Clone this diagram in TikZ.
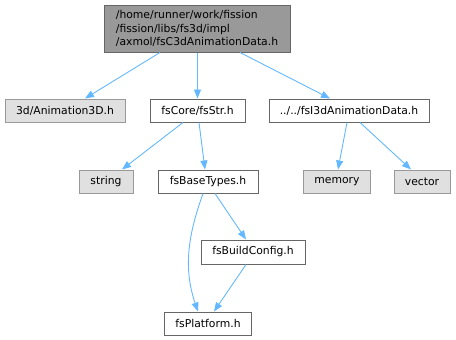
\documentclass[tikz,border=0pt]{standalone}
\usepackage{fontspec}
\setmainfont{DejaVu Sans}
\usetikzlibrary{arrows.meta}
\definecolor{edgeblue}{HTML}{63B8FF}
\definecolor{topfill}{HTML}{999999}
\definecolor{grayfill}{HTML}{E0E0E0}
\begin{document}
\begin{tikzpicture}[x=1pt,y=-1pt,
  every node/.style={font=\fontsize{10.8}{13.3}\selectfont, inner sep=0pt, line width=1pt},
  whitebox/.style={draw=black!60, fill=white},
  graybox/.style={draw=black!40, fill=grayfill},
  topbox/.style={draw=black!60, fill=topfill},
  dep/.style={draw=edgeblue, line width=0.9pt, -{Triangle[length=9pt,width=7pt]}}
]
\useasboundingbox (0,0) rectangle (456,340);
\node[topbox, minimum width=186, minimum height=47, align=left] (top) at (197,28.5)
  {/home/runner/work/fission\\/fission/libs/fs3d/impl\\/axmol/fsC3dAnimationData.h};
\node[graybox, minimum width=120, minimum height=23] (anim) at (65,110.5) {3d/Animation3D.h};
\node[whitebox, minimum width=95, minimum height=23] (str) at (197.5,110.5) {fsCore/fsStr.h};
\node[whitebox, minimum width=160, minimum height=23] (i3d) at (349,110.5) {../../fsI3dAnimationData.h};
\node[graybox, minimum width=54, minimum height=23] (string) at (106,181.5) {string};
\node[whitebox, minimum width=100, minimum height=23] (base) at (208,181.5) {fsBaseTypes.h};
\node[graybox, minimum width=67, minimum height=23] (memory) at (337,181.5) {memory};
\node[graybox, minimum width=56, minimum height=23] (vector) at (422,181.5) {vector};
\node[whitebox, minimum width=104, minimum height=24] (build) at (253,252) {fsBuildConfig.h};
\node[whitebox, minimum width=87, minimum height=23] (plat) at (208,323.5) {fsPlatform.h};

\draw[dep] (top.south -| 160,0) -- (anim.north -| 85,0);
\draw[dep] (top.south -| str.north) -- (str.north);
\draw[dep] (top.south -| 240,0) -- (i3d.north -| 330,0);
\draw[dep] (str.south -| 183,0) -- (string.north -| 122,0);
\draw[dep] (str.south -| 199,0) -- (base.north -| 205,0);
\draw[dep] (i3d.south -| 347,0) -- (memory.north -| 338,0);
\draw[dep] (i3d.south -| 360,0) -- (vector.north -| 411,0);
\draw[dep] (base.south -| 215,0) -- (build.north -| 246,0);
\draw[dep] (base.south -| 203,0) .. controls (190,230) and (182,265) .. (plat.north -| 198,0);
\draw[dep] (build.south -| 246,0) -- (plat.north -| 214,0);
\end{tikzpicture}
\end{document}
